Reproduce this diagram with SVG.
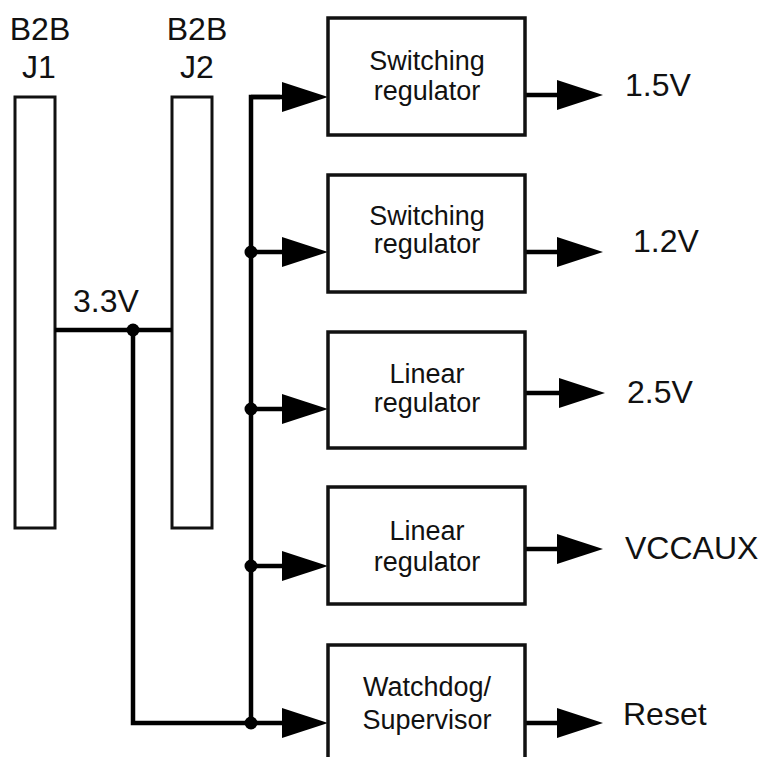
<svg xmlns="http://www.w3.org/2000/svg" width="768" height="757" viewBox="0 0 768 757">
<style>
text{font-family:"Liberation Sans",Arial,sans-serif;fill:#111;}
.lbl{font-size:32px;}
.bt{font-size:27px;text-anchor:middle;}
.box{fill:#fff;stroke:#111;stroke-width:3.5;}
.conn{fill:#fff;stroke:#111;stroke-width:3;}
.w{fill:none;stroke:#000;stroke-width:4.5;stroke-linejoin:miter;}
.dot{fill:#000;}
</style>
<defs>
<marker id="arr" markerUnits="userSpaceOnUse" markerWidth="46" markerHeight="30" refX="36" refY="15" orient="auto">
<path d="M0,0 L46,15 L0,30 Z" fill="#000"/>
</marker>
</defs>
<g id="J1">
<text class="lbl" x="40" y="40" text-anchor="middle">B2B</text>
<text class="lbl" x="39" y="78" text-anchor="middle">J1</text>
<rect class="conn" x="15" y="97" width="40" height="431"/>
</g>
<g id="J2">
<text class="lbl" x="197" y="40" text-anchor="middle">B2B</text>
<text class="lbl" x="197" y="78" text-anchor="middle">J2</text>
<rect class="conn" x="172" y="97" width="40" height="431"/>
</g>
<g id="connectors">
<text class="lbl" x="73" y="312">3.3V</text>
<path class="w" d="M55,330 H172"/>
<path class="w" d="M133,330 V723 H251"/>
<path class="w" d="M251,723 V97 H280"/>
<path class="w" d="M251,97 H318" marker-end="url(#arr)"/>
<path class="w" d="M251,252 H318" marker-end="url(#arr)"/>
<path class="w" d="M251,409 H318" marker-end="url(#arr)"/>
<path class="w" d="M251,566 H318" marker-end="url(#arr)"/>
<path class="w" d="M251,723 H318" marker-end="url(#arr)"/>
<path class="w" d="M525,95 H593" marker-end="url(#arr)"/>
<path class="w" d="M525,252 H593" marker-end="url(#arr)"/>
<path class="w" d="M525,393 H595" marker-end="url(#arr)"/>
<path class="w" d="M525,549 H593" marker-end="url(#arr)"/>
<path class="w" d="M525,723 H593" marker-end="url(#arr)"/>
<circle class="dot" cx="133" cy="330" r="6.5"/>
<circle class="dot" cx="251" cy="252" r="6.5"/>
<circle class="dot" cx="251" cy="409" r="6.5"/>
<circle class="dot" cx="251" cy="566" r="6.5"/>
<circle class="dot" cx="251" cy="723" r="6.5"/>
</g>
<g id="sw1">
<rect class="box" x="328" y="18" width="197" height="117"/>
<text class="bt" x="427" y="70">Switching</text>
<text class="bt" x="427" y="100">regulator</text>
</g>
<g id="sw2">
<rect class="box" x="328" y="175" width="197" height="117"/>
<text class="bt" x="427" y="225">Switching</text>
<text class="bt" x="427" y="253">regulator</text>
</g>
<g id="lin1">
<rect class="box" x="328" y="332" width="197" height="116"/>
<text class="bt" x="427" y="383">Linear</text>
<text class="bt" x="427" y="412">regulator</text>
</g>
<g id="lin2">
<rect class="box" x="328" y="487" width="197" height="117"/>
<text class="bt" x="427" y="540">Linear</text>
<text class="bt" x="427" y="571">regulator</text>
</g>
<g id="wd">
<rect class="box" x="328" y="645" width="197" height="140"/>
<text class="bt" x="427" y="696">Watchdog/</text>
<text class="bt" x="427" y="729">Supervisor</text>
</g>
<g id="out-1v5"><text class="lbl" x="625" y="96">1.5V</text></g>
<g id="out-1v2"><text class="lbl" x="633" y="252">1.2V</text></g>
<g id="out-2v5"><text class="lbl" x="627" y="403">2.5V</text></g>
<g id="out-vccaux"><text class="lbl" x="625" y="559">VCCAUX</text></g>
<g id="out-reset"><text class="lbl" x="623" y="725">Reset</text></g>
</svg>
